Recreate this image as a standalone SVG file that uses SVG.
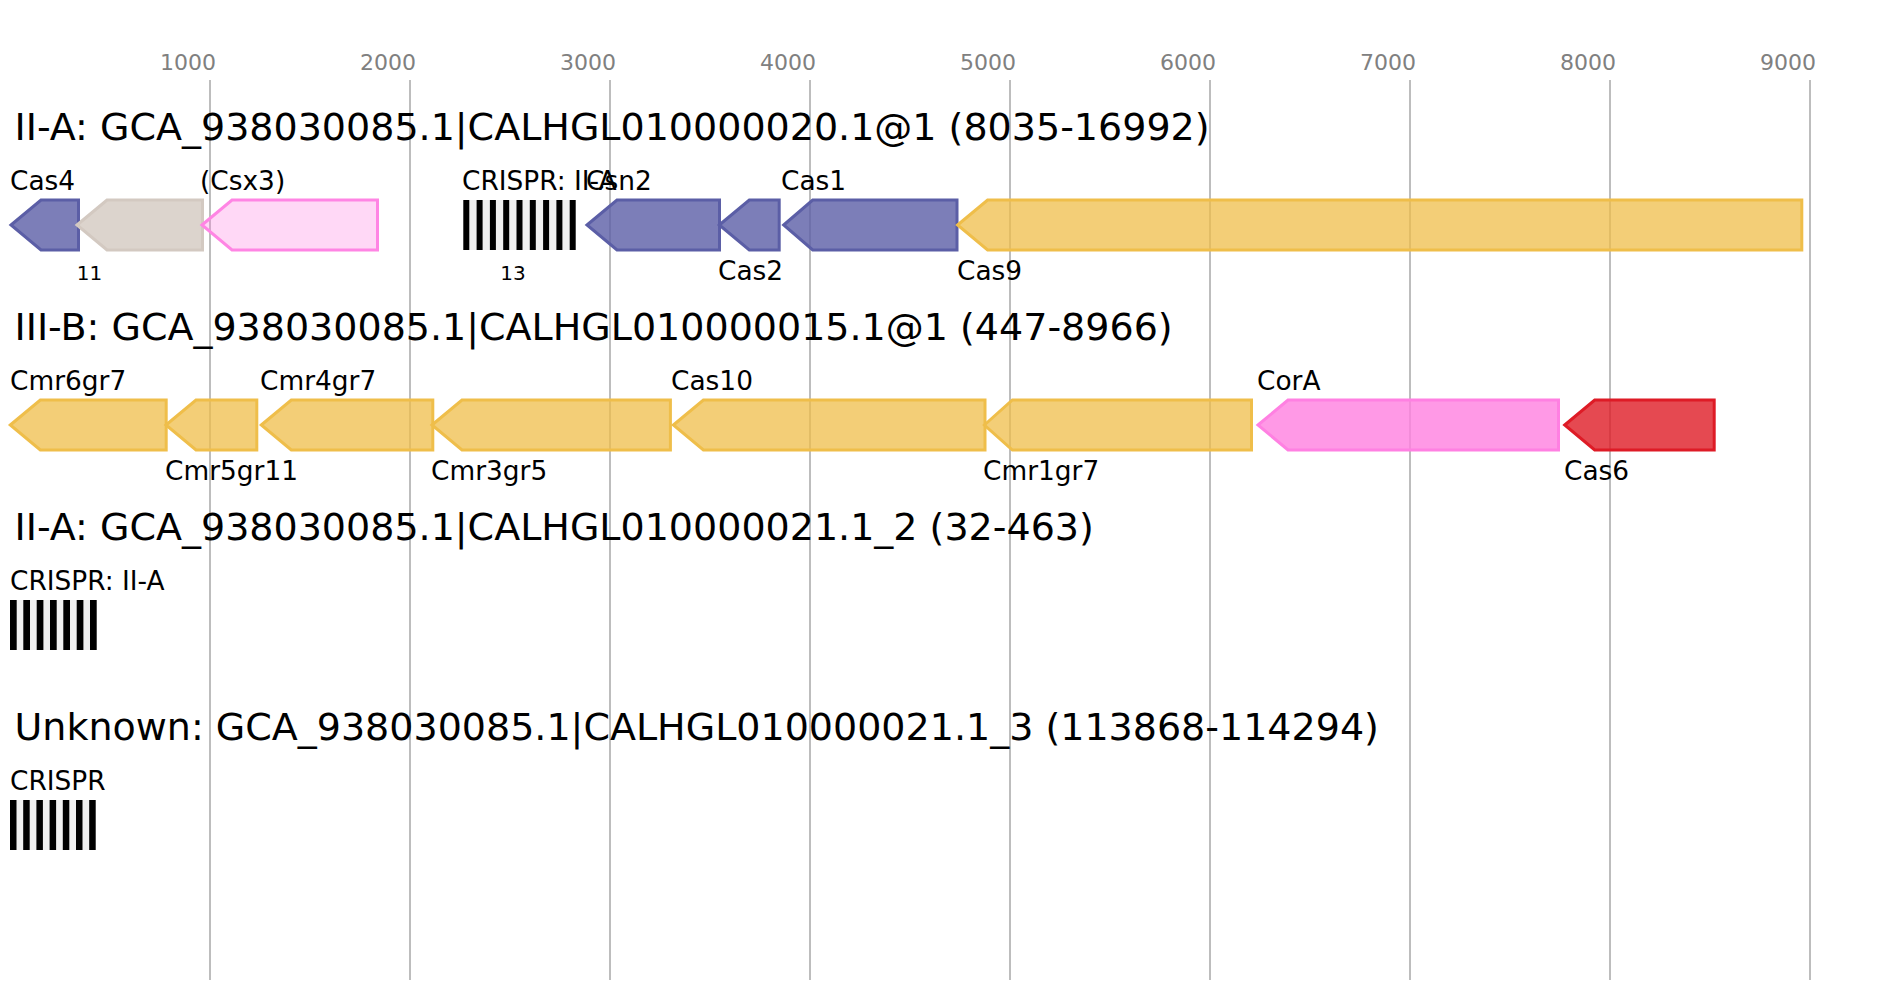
<svg xmlns="http://www.w3.org/2000/svg" width="1891" height="1000" viewBox="0 0 1891 1000">
<style>
text{font-family:"DejaVu Sans","Liberation Sans",sans-serif;fill:#000}
.tick{font-size:22px;fill:#808080;text-anchor:middle}
.title{font-size:38px}
.lbl{font-size:26.4px}
.num{font-size:20px;text-anchor:middle}
.grid{stroke:#bdbdbd;stroke-width:2}
.g{stroke-width:3}
.purple{fill:rgba(91,94,166,0.8);stroke:#5b5ea6}
.yellow{fill:rgba(239,190,74,0.75);stroke:#efbe4a}
.grey{fill:rgba(211,201,193,0.8);stroke:#d3c9c1}
.pinkl{fill:rgba(255,127,224,0.3);stroke:#ff85e4}
.pink{fill:rgba(255,127,224,0.8);stroke:#ff80e2}
.red{fill:rgba(222,27,38,0.8);stroke:#de1b26}
.sp{fill:#f0f0f0}
.rp{fill:#000}
</style>
<rect width="1891" height="1000" fill="#fff"/>
<g id="axis">
<line class="grid" x1="210" y1="80" x2="210" y2="980"/>
<line class="grid" x1="410" y1="80" x2="410" y2="980"/>
<line class="grid" x1="610" y1="80" x2="610" y2="980"/>
<line class="grid" x1="810" y1="80" x2="810" y2="980"/>
<line class="grid" x1="1010" y1="80" x2="1010" y2="980"/>
<line class="grid" x1="1210" y1="80" x2="1210" y2="980"/>
<line class="grid" x1="1410" y1="80" x2="1410" y2="980"/>
<line class="grid" x1="1610" y1="80" x2="1610" y2="980"/>
<line class="grid" x1="1810" y1="80" x2="1810" y2="980"/>
<text class="tick" x="188" y="70">1000</text>
<text class="tick" x="388" y="70">2000</text>
<text class="tick" x="588" y="70">3000</text>
<text class="tick" x="788" y="70">4000</text>
<text class="tick" x="988" y="70">5000</text>
<text class="tick" x="1188" y="70">6000</text>
<text class="tick" x="1388" y="70">7000</text>
<text class="tick" x="1588" y="70">8000</text>
<text class="tick" x="1788" y="70">9000</text>
</g>
<g id="titles">
<text class="title" x="14.5" y="140">II-A: GCA_938030085.1|CALHGL010000020.1@1 (8035-16992)</text>
<text class="title" x="14.5" y="340">III-B: GCA_938030085.1|CALHGL010000015.1@1 (447-8966)</text>
<text class="title" x="14.5" y="540">II-A: GCA_938030085.1|CALHGL010000021.1_2 (32-463)</text>
<text class="title" x="14.5" y="740">Unknown: GCA_938030085.1|CALHGL010000021.1_3 (113868-114294)</text>
</g>
<g id="connectors"></g>
<g id="row1">
<g id="cas4"><polygon class="g purple" points="11,225 41,200 78.5,200 78.5,250 41,250"/><text class="lbl" x="10" y="190">Cas4</text></g>
<g id="gene11"><polygon class="g grey" points="77,225 107,200 202.5,200 202.5,250 107,250"/><text class="num" x="89.5" y="280">11</text></g>
<g id="csx3"><polygon class="g pinkl" points="202,225 232,200 377.5,200 377.5,250 232,250"/><text class="lbl" x="200" y="190">(Csx3)</text></g>
<g id="crispr1">
<rect class="sp" x="463.3" y="200" width="112.4" height="50"/>
<rect class="rp" x="463.3" y="200" width="6" height="50"/>
<rect class="rp" x="476.6" y="200" width="6" height="50"/>
<rect class="rp" x="489.9" y="200" width="6" height="50"/>
<rect class="rp" x="503.2" y="200" width="6" height="50"/>
<rect class="rp" x="516.5" y="200" width="6" height="50"/>
<rect class="rp" x="529.8" y="200" width="6" height="50"/>
<rect class="rp" x="543.1" y="200" width="6" height="50"/>
<rect class="rp" x="556.4" y="200" width="6" height="50"/>
<rect class="rp" x="569.7" y="200" width="6" height="50"/>
<text class="lbl" x="462" y="190">CRISPR: II-A</text>
<text class="num" x="513" y="280">13</text>
</g>
<g id="csn2"><polygon class="g purple" points="587,225 617,200 719.5,200 719.5,250 617,250"/><text class="lbl" x="586" y="190">Csn2</text></g>
<g id="cas2"><polygon class="g purple" points="719.3,225 749.3,200 779.2,200 779.2,250 749.3,250"/><text class="lbl" x="718" y="280">Cas2</text></g>
<g id="cas1"><polygon class="g purple" points="783.7,225 812.7,200 957,200 957,250 812.7,250"/><text class="lbl" x="781" y="190">Cas1</text></g>
<g id="cas9"><polygon class="g yellow" points="957.6,225 987.6,200 1801.8,200 1801.8,250 987.6,250"/><text class="lbl" x="957" y="280">Cas9</text></g>
</g>
<g id="row2">
<g id="cmr6"><polygon class="g yellow" points="10.3,425 40.3,400 166.2,400 166.2,450 40.3,450"/><text class="lbl" x="10" y="390">Cmr6gr7</text></g>
<g id="cmr5"><polygon class="g yellow" points="166,425 196,400 256.8,400 256.8,450 196,450"/><text class="lbl" x="165" y="480">Cmr5gr11</text></g>
<g id="cmr4"><polygon class="g yellow" points="261.3,425 291.3,400 432.8,400 432.8,450 291.3,450"/><text class="lbl" x="260" y="390">Cmr4gr7</text></g>
<g id="cmr3"><polygon class="g yellow" points="432,425 462,400 670.4,400 670.4,450 462,450"/><text class="lbl" x="431" y="480">Cmr3gr5</text></g>
<g id="cas10"><polygon class="g yellow" points="673.4,425 703.4,400 985,400 985,450 703.4,450"/><text class="lbl" x="671" y="390">Cas10</text></g>
<g id="cmr1"><polygon class="g yellow" points="984.4,425 1012.4,400 1251.5,400 1251.5,450 1012.4,450"/><text class="lbl" x="983" y="480">Cmr1gr7</text></g>
<g id="cora"><polygon class="g pink" points="1258,425 1288,400 1558.5,400 1558.5,450 1288,450"/><text class="lbl" x="1257" y="390">CorA</text></g>
<g id="cas6"><polygon class="g red" points="1564.7,425 1594.7,400 1714.2,400 1714.2,450 1594.7,450"/><text class="lbl" x="1564" y="480">Cas6</text></g>
</g>
<g id="row3">
<g id="crispr2">
<rect class="sp" x="10" y="600" width="86.7" height="50"/>
<rect class="rp" x="10" y="600" width="6.7" height="50"/>
<rect class="rp" x="23.3" y="600" width="6.7" height="50"/>
<rect class="rp" x="36.7" y="600" width="6.7" height="50"/>
<rect class="rp" x="50" y="600" width="6.7" height="50"/>
<rect class="rp" x="63.3" y="600" width="6.7" height="50"/>
<rect class="rp" x="76.7" y="600" width="6.7" height="50"/>
<rect class="rp" x="90" y="600" width="6.7" height="50"/>
<text class="lbl" x="10" y="590">CRISPR: II-A</text>
</g>
</g>
<g id="row4">
<g id="crispr3">
<rect class="sp" x="10" y="800" width="85.7" height="50"/>
<rect class="rp" x="10" y="800" width="6.5" height="50"/>
<rect class="rp" x="23.2" y="800" width="6.5" height="50"/>
<rect class="rp" x="36.4" y="800" width="6.5" height="50"/>
<rect class="rp" x="49.6" y="800" width="6.5" height="50"/>
<rect class="rp" x="62.8" y="800" width="6.5" height="50"/>
<rect class="rp" x="76" y="800" width="6.5" height="50"/>
<rect class="rp" x="89.2" y="800" width="6.5" height="50"/>
<text class="lbl" x="10" y="790">CRISPR</text>
</g>
</g>
</svg>
